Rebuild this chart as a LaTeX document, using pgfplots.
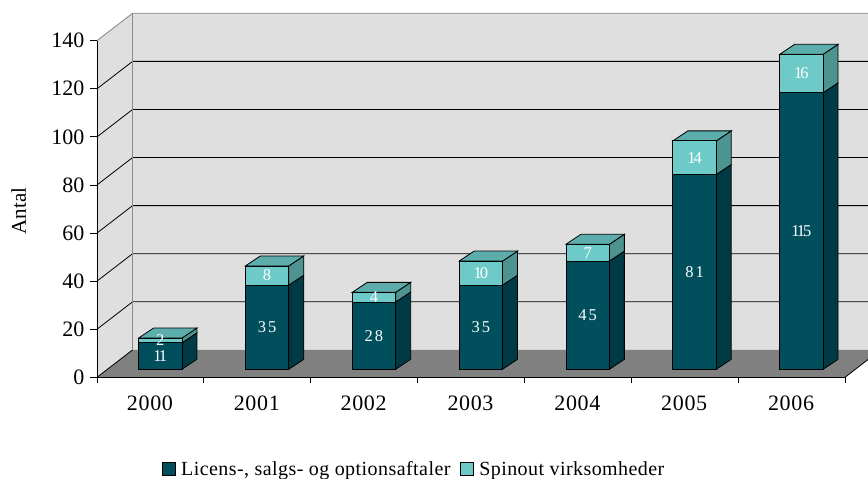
\documentclass[border=0pt]{standalone}
\usepackage{pgfplots}
\usepackage{fontspec}
\setmainfont{Liberation Serif}
\pgfplotsset{compat=1.18}
\definecolor{wallc}{HTML}{DFDFDF}
\definecolor{floorc}{HTML}{808080}
\definecolor{edgec}{HTML}{8C8C8C}
\definecolor{licf}{HTML}{014F5D}
\definecolor{lics}{HTML}{003A45}
\definecolor{spif}{HTML}{6DCAC8}
\definecolor{spis}{HTML}{4D9390}
\definecolor{spit}{HTML}{5DADAD}
\newcommand{\sz}[1]{\fontsize{#1}{#1}\selectfont}
\newcommand{\wide}{\addfontfeature{LetterSpace=12}}
\newcommand{\tight}{\addfontfeature{LetterSpace=-12}}
% one 3-D stacked column: #1 category index, #2 licences, #3 spinouts, #4/#5 spacing of labels
\newcommand{\threedbar}[5]{%
  \pgfmathsetmacro\xl{#1+0.0920-0.203}%
  \pgfmathsetmacro\xr{#1+0.0920+0.203}%
  \pgfmathsetmacro\xb{\xr+0.1404}%
  \pgfmathsetmacro\xlb{\xl+0.1404}%
  \pgfmathsetmacro\xm{#1+0.0920}%
  \pgfmathsetmacro\ya{3.33}%
  \pgfmathsetmacro\yb{3.33+#2}%
  \pgfmathsetmacro\yc{3.33+#2+#3}%
  \pgfmathsetmacro\yab{\ya+4.16}%
  \pgfmathsetmacro\ybb{\yb+4.16}%
  \pgfmathsetmacro\ycb{\yc+4.16}%
  \pgfmathsetmacro\yml{3.33+#2/2}%
  \pgfmathsetmacro\yms{3.33+#2+#3/2}%
  \addplot[forget plot,fill=lics,draw=black,line width=0.8pt] coordinates {(\xr,\ya) (\xb,\yab) (\xb,\ybb) (\xr,\yb)} --cycle;
  \addplot[forget plot,fill=spis,draw=black,line width=0.8pt] coordinates {(\xr,\yb) (\xb,\ybb) (\xb,\ycb) (\xr,\yc)} --cycle;
  \addplot[forget plot,fill=spit,draw=black,line width=0.8pt] coordinates {(\xl,\yc) (\xlb,\ycb) (\xb,\ycb) (\xr,\yc)} --cycle;
  \addplot[forget plot,fill=licf,draw=black,line width=0.8pt] coordinates {(\xl,\ya) (\xr,\ya) (\xr,\yb) (\xl,\yb)} --cycle;
  \addplot[forget plot,fill=spif,draw=black,line width=0.8pt] coordinates {(\xl,\yb) (\xr,\yb) (\xr,\yc) (\xl,\yc)} --cycle;
  \edef\temp{\noexpand\node[text=white,inner sep=0pt,font=\noexpand\sz{16.5}\unexpanded{#4}] at (axis cs:\xm,\yml) {#2};
             \noexpand\node[text=white,inner sep=0pt,font=\noexpand\sz{16.5}\unexpanded{#5}] at (axis cs:\xm,\yms) {#3};}%
  \temp
}
\begin{document}
\begin{tikzpicture}[x=1pt,y=1pt]
\path[use as bounding box,clip] (0,0) rectangle (868,479);
\begin{axis}[
  at={(97pt,101.7pt)}, anchor=south west,
  scale only axis, width=748pt, height=336.6pt,
  xmin=-0.5, xmax=6.5, ymin=0, ymax=140,
  clip=false, axis on top,
  axis x line=bottom, axis y line=left,
  axis line style={-,black,line width=0.9pt},
  xtick={0,1,2,3,4,5,6},
  xticklabels={2000,2001,2002,2003,2004,2005,2006},
  minor xtick={-0.5,0.5,1.5,2.5,3.5,4.5,5.5,6.5},
  ytick={0,20,40,60,80,100,120,140},
  tick align=outside,
  major tick length=7pt,
  minor tick length=6pt,
  x tick style={draw=none},
  minor x tick style={draw=black,line width=0.8pt},
  y tick style={draw=black,line width=0.8pt},
  /pgf/number format/assume math mode=true,
  xticklabel style={font=\sz{22}\addfontfeature{LetterSpace=3},yshift=-8pt,xshift=-0.5pt},
  yticklabel style={font=\sz{22},xshift=-2pt},
  ylabel={Antal},
  ylabel shift=18.5pt,
  ylabel style={font=\sz{21},at={(ticklabel cs:0.494)}},
  legend style={draw=none,fill=none,at={(axis cs:2.47,-38.3)},anchor=center,
    legend columns=2,font=\sz{20},
    /tikz/every even column/.append style={column sep=8pt},
    inner sep=0pt},
  legend cell align=left,
]
\addlegendimage{legend image code/.code={\draw[fill=licf,draw=black,line width=0.8pt] (0pt,-6.5pt) rectangle (13pt,6.5pt);}}
\addlegendentry{\hspace*{3pt}\addfontfeature{LetterSpace=2.2}Licens-, salgs- og optionsaftaler}
\addlegendimage{legend image code/.code={\draw[fill=spif,draw=black,line width=0.8pt] (0pt,-6.5pt) rectangle (13pt,6.5pt);}}
\addlegendentry{\hspace*{3pt}\addfontfeature{LetterSpace=2.2}Spinout virksomheder}
% walls and floor
\addplot[forget plot,fill=wallc,draw=none] coordinates {(-0.167,11.4) (6.833,11.4) (6.833,151.4) (-0.167,151.4)} --cycle;
\addplot[forget plot,fill=wallc,draw=none] coordinates {(-0.5,0) (-0.167,11.4) (-0.167,151.4) (-0.5,140)} --cycle;
\addplot[forget plot,fill=floorc,draw=none] coordinates {(-0.5,0) (6.5,0) (6.833,11.4) (-0.167,11.4)} --cycle;
% grid lines
\addplot[forget plot,black,line width=0.8pt] coordinates {(-0.5,0) (-0.167,11.4)};
\addplot[forget plot,black,line width=0.8pt] coordinates {(6.5,0) (6.833,11.4)};
\addplot[forget plot,black,line width=0.8pt] coordinates {(-0.5,20) (-0.167,31.4) (6.833,31.4)};
\addplot[forget plot,black,line width=0.8pt] coordinates {(-0.5,40) (-0.167,51.4) (6.833,51.4)};
\addplot[forget plot,black,line width=0.8pt] coordinates {(-0.5,60) (-0.167,71.4) (6.833,71.4)};
\addplot[forget plot,black,line width=0.8pt] coordinates {(-0.5,80) (-0.167,91.4) (6.833,91.4)};
\addplot[forget plot,black,line width=0.8pt] coordinates {(-0.5,100) (-0.167,111.4) (6.833,111.4)};
\addplot[forget plot,black,line width=0.8pt] coordinates {(-0.5,120) (-0.167,131.4) (6.833,131.4)};
\addplot[forget plot,edgec,line width=0.9pt] coordinates {(-0.5,140) (-0.167,151.4) (6.833,151.4)};
\addplot[forget plot,edgec,line width=0.9pt] coordinates {(-0.167,11.4) (-0.167,151.4)};
% columns
\threedbar{0}{11}{2}{\tight}{}
\threedbar{1}{35}{8}{\wide}{}
\threedbar{2}{28}{4}{\wide}{}
\threedbar{3}{35}{10}{\wide}{\tight}
\threedbar{4}{45}{7}{\wide}{}
\threedbar{5}{81}{14}{\wide}{\tight}
\threedbar{6}{115}{16}{\tight}{\tight}
\end{axis}
\end{tikzpicture}
\end{document}
